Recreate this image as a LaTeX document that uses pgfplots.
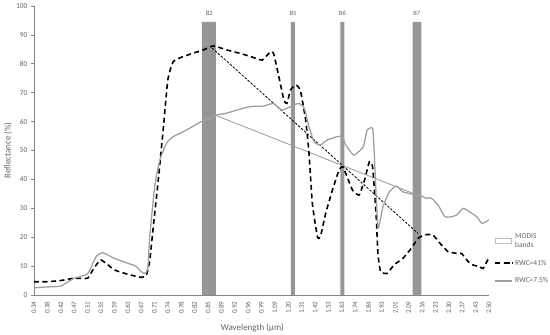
\documentclass[border=0pt]{standalone}
\usepackage{pgfplots}
\pgfplotsset{compat=1.18}
\usepackage{fontspec}
\setmainfont{Carlito}
\definecolor{axgray}{RGB}{134,134,134}
\definecolor{txtgray}{RGB}{100,100,100}
\definecolor{bandgray}{RGB}{150,150,150}
\definecolor{curvegray}{RGB}{160,160,160}
\definecolor{legbox}{RGB}{190,190,190}

\begin{document}
\begin{tikzpicture}
\path[use as bounding box] (-34pt,-40pt) rectangle (516pt,295pt);
\begin{axis}[
    scale only axis,
    width=455pt, height=289pt,
    xmin=0, xmax=34, ymin=0, ymax=100,
    axis lines=left,
    axis line style={axgray, line width=0.6pt, -},
    xtick={0,...,34},
    xticklabels={0.34,0.38,0.42,0.47,0.51,0.55,0.59,0.63,0.67,0.71,0.74,0.78,0.82,0.85,0.89,0.92,0.96,0.99,1.09,1.20,1.31,1.42,1.53,1.63,1.74,1.84,1.93,2.01,2.09,2.16,2.23,2.30,2.37,2.43,2.50},
    ytick={0,10,...,100},
    tick align=outside,
    major tick length=3pt,
    ytick style={axgray, line width=0.6pt},
    xtick style={draw=none},
    /pgf/number format/assume math mode=true,
    xticklabel style={rotate=90, anchor=east, font=\fontsize{7}{8}\selectfont, text=txtgray},
    yticklabel style={font=\fontsize{7.5}{9}\selectfont, text=txtgray},
    xlabel={Wavelength (µm)},
    ylabel={Reflectance (\%)},
    xlabel style={at={(axis description cs:0.48,-0.114)}, anchor=center, font=\fontsize{9}{11}\selectfont, text=txtgray},
    ylabel style={at={(axis description cs:-0.057,0.5)}, anchor=center, font=\fontsize{9}{11}\selectfont, text=txtgray},
    legend style={at={(1.005,0.227)}, anchor=north west, draw=none, fill=none,
        font=\fontsize{7.5}{9}\selectfont, text=txtgray, row sep=7pt,
        nodes={align=left}},
    legend cell align=left,
]
% MODIS bands
\addplot[fill=bandgray, draw=none,
    legend image code/.code={\draw[draw=legbox, fill=white, line width=0.8pt] (0pt,-2.5pt) rectangle (16pt,2.5pt);}]
    coordinates {(12.55,0) (13.6,0) (13.6,94.5) (12.55,94.5) (12.55,0)};
\addlegendentry{MODIS\\bands}
\addplot[fill=bandgray, draw=none, forget plot]
    coordinates {(19.2,0) (19.5,0) (19.5,94.5) (19.2,94.5) (19.2,0)};
\addplot[fill=bandgray, draw=none, forget plot]
    coordinates {(22.9,0) (23.2,0) (23.2,94.5) (22.9,94.5) (22.9,0)};
\addplot[fill=bandgray, draw=none, forget plot]
    coordinates {(28.3,0) (28.95,0) (28.95,94.5) (28.3,94.5) (28.3,0)};

% straight lines between bands
\addplot[black, line width=0.8pt, dash pattern=on 2.5pt off 1.5pt, forget plot]
    coordinates {(13.3,85.5) (28.7,21.3)};
\addplot[curvegray, line width=0.9pt, forget plot]
    coordinates {(13.5,62.3) (28.3,35.2)};

% RWC=41%
\addplot[black, line width=1.6pt, dash pattern=on 5pt off 3.5pt, smooth, tension=0.3] coordinates {
    (0,4.6) (1,4.6) (2,5.0) (3,5.8) (4,5.8) (4.4,8.7) (5.0,12.1) (6.0,8.7) (7.0,7.2)
    (8.0,6.1) (8.4,6.9) (8.65,12) (8.9,23) (9.27,39) (9.65,57) (10.0,74.4) (10.4,80.7)
    (11.15,82.5) (12.65,84.8) (13.4,86.2) (14.4,84.8) (15.4,83.6) (16.2,82.5) (17.05,81.3)
    (17.67,84.2) (17.9,83.6) (18.3,75.5) (18.67,67.5) (18.9,66.3) (19.17,70.9) (19.55,72.7)
    (19.9,70.9) (20.3,60.6) (20.55,49) (20.8,31.7) (21.18,20.2) (21.4,20.2) (21.8,28.3)
    (22.3,36.3) (22.8,43.3) (23.06,44.4) (23.4,40.9) (23.8,36.3) (24.3,34.6) (24.7,39.8)
    (25.06,46.1) (25.3,44.4) (25.56,28.3) (25.7,14.4) (25.9,8.1) (26.4,7.5) (26.9,10.4)
    (27.57,12.7) (28.2,16.2) (28.7,19.6) (29.2,20.8) (29.8,20.8) (30.45,17.3) (30.95,15)
    (31.6,14.4) (31.95,14.4) (32.45,11.5) (32.8,10.4) (33.3,9.8) (33.56,9.2) (33.9,12.1)
    (34,12.5)
};
\addlegendentry{RWC=41\%}

% RWC=7.5%
\addplot[curvegray, line width=1.3pt, smooth, tension=0.3] coordinates {
    (0,2.5) (1,2.8) (2,3.1) (3,5.8) (4,7.3) (4.64,13.3) (5.14,14.6) (6,12.7) (7,11)
    (7.6,10) (8.0,8.1) (8.27,7.5) (8.5,9) (8.65,20.2) (9.02,37.5) (9.4,46.7) (9.9,52.5)
    (10.4,54.8) (11.4,57.1) (12.5,60) (13.66,62.3) (14.4,62.9) (15.16,64) (16.17,65.2)
    (17.2,65.4) (17.9,66.3) (18.5,64) (18.9,64.6) (19.4,65.7) (19.8,66.3) (20.2,64.6)
    (20.55,58.2) (20.93,53) (21.4,51.9) (21.9,53.6) (22.67,54.8) (23.05,54.8) (23.3,51.9)
    (23.9,48.4) (24.6,51.3) (24.9,57.1) (25.3,57.7) (25.4,51.3) (25.7,23.6) (26.07,30.5)
    (26.56,35.7) (27.07,37.7) (27.57,35.7) (28.3,34.9) (28.8,34.6) (29.3,33.5) (29.7,33.5)
    (30.2,31.1) (30.7,27.1) (31.2,27.1) (31.6,27.7) (32.08,30) (32.7,28.3) (33.08,27.1)
    (33.46,24.8) (33.8,25.4) (34,26)
};
\addlegendentry{RWC=7.5\%}

\node[font=\fontsize{6.5}{7}\selectfont, text=txtgray] at (axis cs:13.1,97.3) {B2};
\node[font=\fontsize{6.5}{7}\selectfont, text=txtgray] at (axis cs:19.35,97.3) {B5};
\node[font=\fontsize{6.5}{7}\selectfont, text=txtgray] at (axis cs:23.05,97.3) {B6};
\node[font=\fontsize{6.5}{7}\selectfont, text=txtgray] at (axis cs:28.6,97.3) {B7};
\end{axis}
\end{tikzpicture}
\end{document}
